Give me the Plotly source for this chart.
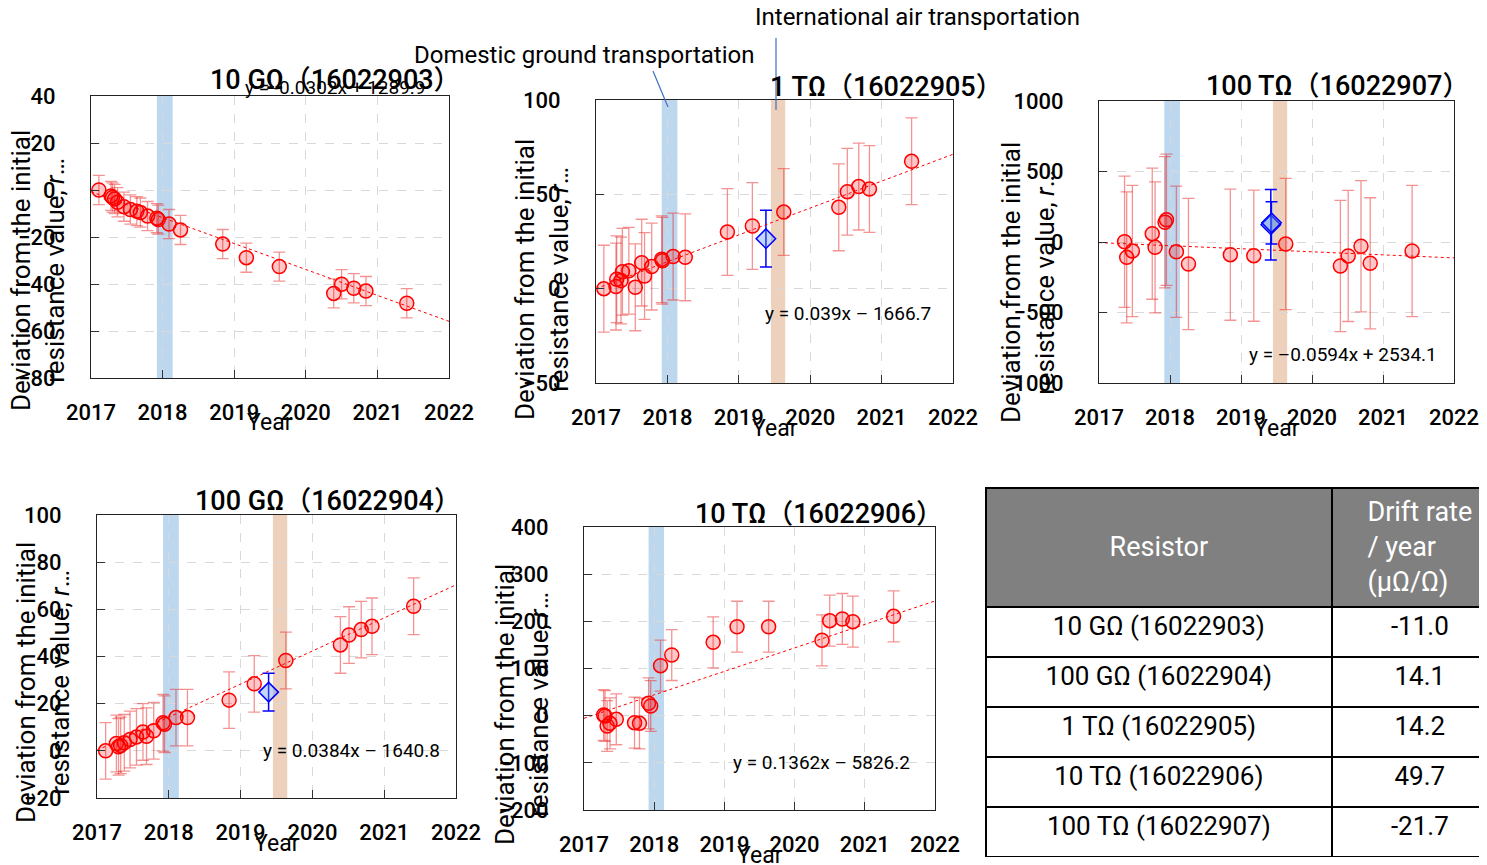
import numpy as np
import plotly.graph_objects as go

W, H = 1500, 865
PAGE_OFFSET = 8          # the page body margin shifts the figure by this many pixels
FONT = "Roboto, 'Noto Sans CJK JP', sans-serif"

# ---------------- data ----------------
x_tick_vals = [2017, 2018, 2019, 2020, 2021, 2022]
x_tick_text = ["2017", "2018", "2019", "2020", "2021", "2022"]
domestic_span = [2017.92, 2018.14]      # Domestic ground transportation
intl_span = [2019.45, 2019.65]          # International air transportation

# 10 GΩ (16022903)
g10_years = [2017.11, 2017.28, 2017.30, 2017.33, 2017.37, 2017.46, 2017.55, 2017.64, 2017.69, 2017.79,
             2017.92, 2017.94, 2018.09, 2018.25, 2018.84, 2019.17, 2019.63, 2020.39, 2020.50, 2020.67,
             2020.84, 2021.41]
g10_values = [0.0, -2.5, -3.2, -3.8, -5.2, -7.1, -8.3, -9.0, -9.6, -11.1,
              -12.0, -12.6, -14.5, -17.0, -23.0, -28.8, -32.6, -44.0, -40.1, -41.8,
              -43.0, -48.2]
g10_err = [6.2] * 22
g10_fit = (-0.0302, 1289.9)

# 100 GΩ (16022904)
g100_years = [2017.12, 2017.27, 2017.30, 2017.33, 2017.38, 2017.46, 2017.55, 2017.64, 2017.69, 2017.79,
              2017.92, 2017.94, 2018.10, 2018.26, 2018.84, 2019.19, 2019.63, 2020.39, 2020.51, 2020.68,
              2020.83, 2021.41]
g100_values = [0.0, 3.1, 1.7, 2.3, 3.4, 4.8, 5.9, 8.0, 6.2, 8.5,
               11.9, 11.3, 14.1, 14.1, 21.5, 28.4, 38.3, 44.9, 49.1, 51.4,
               52.8, 61.3]
g100_err = [12.0] * 22
g100_ref_years = [2019.39]
g100_ref_values = [24.9]
g100_ref_err = [8.0]
g100_fit = (0.0384, -1640.8)

# 1 TΩ (16022905)
t1_years = [2017.11, 2017.28, 2017.29, 2017.35, 2017.37, 2017.46, 2017.55, 2017.64, 2017.68, 2017.78,
            2017.92, 2017.93, 2018.08, 2018.25, 2018.84, 2019.19, 2019.63, 2020.40, 2020.52, 2020.68,
            2020.83, 2021.42]
t1_values = [0.0, 1.1, 5.0, 4.3, 9.0, 9.5, 0.7, 13.8, 6.7, 11.7,
             15.6, 14.8, 17.0, 16.6, 30.0, 33.2, 40.6, 43.1, 51.4, 54.1,
             52.8, 67.5]
t1_err = [23.0] * 22
t1_ref_years = [2019.38]
t1_ref_values = [26.5]
t1_ref_err = [15.0]
t1_fit = (0.039, -1666.7)

# 10 TΩ (16022906)
t10_years = [2017.28, 2017.30, 2017.33, 2017.37, 2017.46, 2017.72, 2017.79, 2017.92, 2017.95, 2018.09,
             2018.25, 2018.84, 2019.18, 2019.63, 2020.39, 2020.50, 2020.68, 2020.83, 2021.41]
t10_values = [1.4, -0.7, -21.9, -16.2, -7.7, -14.8, -16.2, 26.2, 20.5, 106.0,
              128.6, 155.5, 188.6, 188.6, 159.7, 201.4, 205.0, 199.3, 210.6]
t10_err = [54.0] * 19
t10_fit = (0.1362, -5826.2)

# 100 TΩ (16022907)
t100_years = [2017.36, 2017.39, 2017.47, 2017.75, 2017.79, 2017.93, 2017.95, 2018.09, 2018.26, 2018.85,
              2019.18, 2019.63, 2020.40, 2020.51, 2020.69, 2020.82, 2021.41]
t100_values = [2, -109, -64, 59, -38, 140, 158, -69, -156, -90,
               -97, -14, -170, -99, -30, -151, -64]
t100_err = [465] * 17
t100_ref_years = [2019.42, 2019.43]
t100_ref_values = [123, 136]
t100_ref_err = [250, 150]
t100_fit = (-0.0594, 2534.1)

table_resistors = ["10 GΩ (16022903)", "100 GΩ (16022904)", "1 TΩ (16022905)",
                   "10 TΩ (16022906)", "100 TΩ (16022907)"]
table_drift = [-11.0, 14.1, 14.2, 49.7, -21.7]

EXCEL_SERIAL_2017 = 42736      # Excel date serial of 2017-01-01
DAYS_PER_YEAR = 365.25

# ---------------- helpers ----------------
def fx(p):
    return (p - PAGE_OFFSET) / W


def fy(p):
    return 1 - (p - PAGE_OFFSET) / H


def fit_line(fit, years):
    slope, intercept = fit
    serial = EXCEL_SERIAL_2017 + (np.asarray(years) - 2017) * DAYS_PER_YEAR
    return slope * serial + intercept


YTITLE = "Deviation from the initial<br>resistance value, <i>r</i>…"

panels = [
    dict(title="10 GΩ（16022903）", years=g10_years, vals=g10_values, err=g10_err, ref=None,
         fit=g10_fit, eq="y = -0.0302x + 1289.9", yrange=[-80, 40], dtick=20, intl=False,
         box=(91, 449, 96, 378), title_pos=(335, 80), eq_pos=(335, 88), ytitle_pos=(38, 271)),
    dict(title="1 TΩ（16022905）", years=t1_years, vals=t1_values, err=t1_err,
         ref=(t1_ref_years, t1_ref_values, t1_ref_err),
         fit=t1_fit, eq="y = 0.039x – 1666.7", yrange=[-50, 100], dtick=50, intl=True,
         box=(596, 953, 100, 383), title_pos=(886, 87), eq_pos=(848, 313), ytitle_pos=(542, 280)),
    dict(title="100 TΩ（16022907）", years=t100_years, vals=t100_values, err=t100_err,
         ref=(t100_ref_years, t100_ref_values, t100_ref_err),
         fit=t100_fit, eq="y = –0.0594x + 2534.1", yrange=[-1000, 1000], dtick=500, intl=True,
         box=(1099, 1454, 101, 383), title_pos=(1337, 86), eq_pos=(1343, 355), ytitle_pos=(1028, 283)),
    dict(title="100 GΩ（16022904）", years=g100_years, vals=g100_values, err=g100_err,
         ref=(g100_ref_years, g100_ref_values, g100_ref_err),
         fit=g100_fit, eq="y = 0.0384x – 1640.8", yrange=[-20, 100], dtick=20, intl=True,
         box=(97, 456, 515, 798), title_pos=(328, 501), eq_pos=(351, 750), ytitle_pos=(43, 683)),
    dict(title="10 TΩ（16022906）", years=t10_years, vals=t10_values, err=t10_err, ref=None,
         fit=t10_fit, eq="y = 0.1362x – 5826.2", yrange=[-200, 400], dtick=100, intl=False,
         box=(584, 935, 527, 810), title_pos=(819, 514), eq_pos=(821, 762), ytitle_pos=(522, 705)),
]

RED_FILL = "rgba(255,0,0,0.22)"
ERR_RED = "rgba(235,40,40,0.5)"
BLUE_BAND = "rgb(189,215,238)"
ORANGE_BAND = "rgb(238,209,188)"

fig = go.Figure()
layout = dict(
    width=W, height=H,
    margin=dict(l=0, r=0, t=0, b=0, autoexpand=False),
    paper_bgcolor="white", plot_bgcolor="white",
    showlegend=False,
    font=dict(family=FONT, color="black", size=22),
)
shapes = []
annotations = []

for i, p in enumerate(panels, start=1):
    xs = "x" if i == 1 else f"x{i}"
    ys = "y" if i == 1 else f"y{i}"
    x0, x1, y0, y1 = p["box"]
    axis_common = dict(
        automargin=False,
        showline=True, linecolor="#222", linewidth=1.3, mirror=True,
        ticks="inside", ticklen=8, tickcolor="#333", tickwidth=1.3,
        showgrid=True, gridcolor="#d9d9d9", griddash="dash", gridwidth=1,
        zeroline=False, tickfont=dict(size=22, family=FONT, color="black", weight=500),
    )
    layout[f"xaxis{'' if i == 1 else i}"] = dict(
        axis_common, domain=[fx(x0), fx(x1)], anchor=ys, range=[x_tick_vals[0], x_tick_vals[-1]],
        tickvals=x_tick_vals, ticktext=x_tick_text, ticklabelstandoff=14,
    )
    layout[f"yaxis{'' if i == 1 else i}"] = dict(
        axis_common, domain=[fy(y1), fy(y0)], anchor=xs, range=p["yrange"],
        dtick=p["dtick"], tick0=0, ticklabelstandoff=30,
    )

    # bands
    shapes.append(dict(type="rect", xref=xs, yref=f"{ys} domain", x0=domestic_span[0], x1=domestic_span[1],
                       y0=0, y1=1, fillcolor=BLUE_BAND, line=dict(width=0), layer="below"))
    if p["intl"]:
        shapes.append(dict(type="rect", xref=xs, yref=f"{ys} domain", x0=intl_span[0], x1=intl_span[1],
                           y0=0, y1=1, fillcolor=ORANGE_BAND, line=dict(width=0), layer="below"))

    # data points
    fig.add_trace(go.Scatter(
        x=p["years"], y=p["vals"], xaxis=xs, yaxis=ys, mode="markers",
        marker=dict(symbol="circle", size=14, color=RED_FILL, line=dict(color="red", width=1.5)),
        error_y=dict(type="data", array=p["err"], color=ERR_RED, thickness=1.3, width=6),
    ))
    if p["ref"] is not None:
        ry, rv, re = p["ref"]
        fig.add_trace(go.Scatter(
            x=ry, y=rv, xaxis=xs, yaxis=ys, mode="markers",
            marker=dict(symbol="diamond", size=15, color="rgba(90,140,230,0.35)",
                        line=dict(color="blue", width=1.5)),
            error_y=dict(type="data", array=re, color="blue", thickness=1.5, width=6),
        ))
    # trend line
    tx = np.array([x_tick_vals[0], x_tick_vals[-1]], dtype=float)
    fig.add_trace(go.Scatter(
        x=tx, y=fit_line(p["fit"], tx), xaxis=xs, yaxis=ys, mode="lines",
        line=dict(color="red", width=1, dash="dot"), hoverinfo="skip",
    ))

    # texts
    annotations.append(dict(text=p["title"], x=fx(p["title_pos"][0]), y=fy(p["title_pos"][1]),
                            xref="paper", yref="paper", showarrow=False, xanchor="center", yanchor="middle",
                            font=dict(size=27, family=FONT, color="black", weight=500)))
    annotations.append(dict(text=p["eq"], x=fx(p["eq_pos"][0]), y=fy(p["eq_pos"][1]),
                            xref="paper", yref="paper", showarrow=False, xanchor="center", yanchor="middle",
                            font=dict(size=19, family=FONT, color="black")))
    annotations.append(dict(text=YTITLE, x=fx(p["ytitle_pos"][0]), y=fy(p["ytitle_pos"][1]),
                            xref="paper", yref="paper", showarrow=False, xanchor="center", yanchor="middle",
                            textangle=-90, font=dict(size=26, family=FONT, color="black")))
    annotations.append(dict(text="Year", x=fx((x0 + x1) / 2), y=fy(y1 + 45),
                            xref="paper", yref="paper", showarrow=False, xanchor="center", yanchor="middle",
                            font=dict(size=23, family=FONT, color="black")))

# transport labels
annotations.append(dict(text="Domestic ground transportation", x=fx(584), y=fy(55), xref="paper", yref="paper",
                        showarrow=False, xanchor="center", yanchor="middle",
                        font=dict(size=24, family=FONT, color="black")))
annotations.append(dict(text="International air transportation", x=fx(917), y=fy(17), xref="paper", yref="paper",
                        showarrow=False, xanchor="center", yanchor="middle",
                        font=dict(size=24, family=FONT, color="black")))
shapes.append(dict(type="line", xref="paper", yref="paper", x0=fx(653), y0=fy(71), x1=fx(668), y1=fy(107),
                   line=dict(color="#3f6fc4", width=1.2)))
shapes.append(dict(type="line", xref="paper", yref="paper", x0=fx(776), y0=fy(38), x1=fx(776), y1=fy(110),
                   line=dict(color="#3f6fc4", width=1.2)))

# table
fig.add_trace(go.Table(
    domain=dict(x=[fx(986), 1.0], y=[fy(857), fy(488)]),
    columnwidth=[345, 176],
    header=dict(values=["&nbsp;<br>Resistor", "Drift rate<br>/ year<br>(μΩ/Ω)"],
                fill_color="#808080", align="center", height=119,
                line=dict(color="black", width=2),
                font=dict(color="white", size=27, family=FONT)),
    cells=dict(values=[table_resistors, [f"{v:.1f}" for v in table_drift]],
               fill_color="white", align="center", height=50,
               line=dict(color="black", width=2),
               font=dict(color="black", size=26, family=FONT)),
))

layout["shapes"] = shapes
layout["annotations"] = annotations
fig.update_layout(**layout)
fig.write_html("out.html")
